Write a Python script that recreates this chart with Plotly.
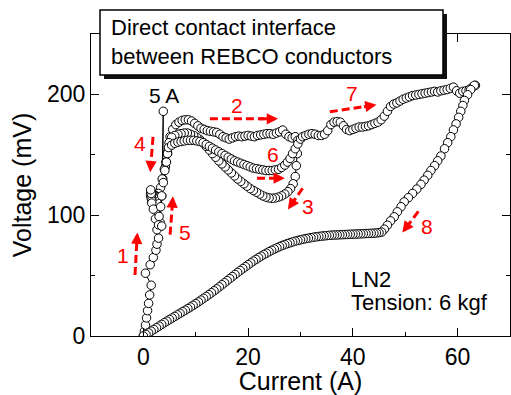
import plotly.graph_objects as go

# ---------------- data ----------------
# 1: ramp up to 5 A
seg1_x = [0, 0.2, 0.4, 0.6, 0.8, 1.0, 1.2, 1.5, 0.4, 1.3, 1.9, 2.4, 2.6, 2.9, 2.6, 3.2, 3.5, 3.8]
seg1_y = [0, 4, 9, 15, 21, 27, 34, 42, 52, 59, 65, 71, 76, 81, 88, 94, 116, 186]

# 2: 5 A -> ~29 A (upper branch)
seg2_x = [3.7, 4.2, 4.6, 5.1, 5.6, 6.2, 6.8, 7.4, 8.0, 8.6, 9.2, 9.8, 10.4, 11.0, 11.6, 12.2,
          12.8, 13.4, 14.0, 14.6, 15.2, 15.8, 16.4, 17.0, 17.6, 18.2, 18.8, 19.4, 20.0, 20.6,
          21.2, 21.8, 22.4, 23.0, 23.6, 24.2, 24.8, 25.4, 26.0, 26.6, 27.2, 27.8, 28.4, 29.0, 29.5]
seg2_y = [130, 140, 152, 165, 171, 175, 177, 178.5, 179, 179, 178, 176, 174, 172, 171, 170,
          169.5, 169, 168.5, 167, 165, 164, 163, 164, 165, 165.5, 165, 165.5, 166, 165.5,
          165, 166, 166.5, 167, 167.5, 167.5, 167, 168, 169, 170.5, 167, 165, 164, 165, 162]

# 3: ~29 A -> ~5 A (lower dip)
seg3_x = [29.4, 29.2, 29.0, 28.6, 28.1, 27.6, 27.0, 26.4, 25.8, 25.2, 24.6, 24.0, 23.4, 22.8,
          22.2, 21.6, 21.0, 20.4, 19.8, 19.2, 18.6, 18.0, 17.4, 16.8, 16.2, 15.6, 15.0, 14.4,
          13.8, 13.2, 12.6, 12.0, 11.4, 10.8, 10.2, 9.6, 9.0, 8.4, 7.8, 7.2, 6.6, 6.0, 5.4, 4.9]
seg3_y = [151, 141, 132, 126, 122, 119.5, 117.5, 116, 115, 114.3, 114, 114.3, 115, 116,
          117.5, 119, 120.5, 122, 124, 126, 128, 130, 132.5, 135, 137.5, 140, 142.5, 145,
          148, 151, 154, 157, 160, 162.5, 164.5, 166, 167, 168, 168, 167.5, 167, 166, 164.5, 160]

# 4: 5 A -> ~1.5 A
seg4_x = [4.6, 4.3, 4.0, 3.6, 3.3, 2.9, 2.4, 2.0, 1.7, 1.5, 1.4, 1.5, 1.5, 1.4, 1.5, 1.6, 1.5, 1.4]
seg4_y = [151, 144, 138, 130, 123, 118, 116, 117, 118, 117, 118, 119, 120, 116, 114, 112, 118, 121]

# 5: ~1.5 A -> 5 A
seg5_x = [1.6, 1.9, 2.3, 2.9, 3.5, 3.0, 3.3, 3.5, 3.8, 4.1, 4.4, 4.6, 4.8]
seg5_y = [110, 105, 97, 92, 91, 99, 107, 116, 127, 137, 144, 151, 156]

# 6: 5 A -> ~30 A (middle dip)
seg6_x = [5.4, 6.0, 6.6, 7.2, 7.8, 8.4, 9.0, 9.6, 10.2, 10.8, 11.4, 12.0, 12.6, 13.2, 13.8,
          14.4, 15.0, 15.6, 16.2, 16.8, 17.4, 18.0, 18.6, 19.2, 19.8, 20.4, 21.0, 21.6, 22.2,
          22.8, 23.4, 24.0, 24.6, 25.2, 25.8, 26.4, 27.0, 27.5, 28.0, 28.5, 29.0, 29.5, 30.0]
seg6_y = [158, 159.5, 160.5, 161, 161.5, 162, 162, 162, 161.5, 161, 160, 158.5, 157, 155.5, 154,
          152.5, 151, 149.5, 148, 146.5, 145, 144, 143, 142, 141, 140, 139, 138.5, 138,
          137.5, 137, 137, 137, 137.5, 138, 139.5, 141.5, 144, 147, 151, 155, 159, 163]

# 7: ~30 A -> 63 A
seg7_x = [30.4, 31.0, 31.6, 32.2, 32.8, 33.4, 34.0, 34.6, 35.2, 35.8, 36.4, 37.0, 37.6, 38.2,
          38.8, 39.4, 40.0, 40.6, 41.2, 41.8, 42.4, 43.0, 43.6, 44.2, 44.8, 45.4, 46.0, 46.6,
          47.2, 47.8, 48.4, 49.0, 49.6, 50.2, 50.8, 51.4, 52.0, 52.6, 53.2, 53.8, 54.4, 55.0,
          55.6, 56.2, 56.8, 57.4, 58.0, 58.6, 59.2, 59.8, 60.4, 61.0, 61.6, 62.2, 62.8, 63.4]
seg7_y = [165, 166, 167, 167.5, 167, 166, 166, 167, 170, 175, 177, 177.5, 177, 174,
          171, 170, 171, 172, 173, 173, 173.5, 174, 175, 176, 177, 179, 182, 186,
          190, 192, 193, 194.5, 196, 197, 198, 199, 199.5, 200, 200.5, 201, 201.5, 202,
          202.5, 202, 203, 203.5, 204, 205, 206, 203, 201, 202.5, 203, 204, 206, 207.5]

# 8: 63 A -> 0 A (return)
seg8_x = [63.2, 62.5, 61.9, 61.3, 61.0, 60.6, 60.2, 59.7, 59.2, 58.7, 58.1, 57.5, 56.8, 56.2,
          55.6, 54.9, 54.3, 53.6, 53.0, 52.2, 51.4, 50.6, 49.8, 49.2, 48.5, 47.9, 47.2, 46.6,
          46.0, 45.5, 45.0, 44.5, 44.0, 43.5, 43.0, 42.5, 42.0, 41.5, 41.0, 40.5, 40.0, 39.5,
          39.0, 38.5, 38.0, 37.5, 37.0, 36.5, 36.0, 35.5, 35.0, 34.5, 34.0, 33.5, 33.0, 32.5,
          32.0, 31.5, 31.0, 30.5, 30.0, 29.5, 29.0, 28.5, 28.0, 27.5, 27.0, 26.5, 26.0, 25.5,
          25.0, 24.5, 24.0, 23.5, 23.0, 22.5, 22.0, 21.5, 21.0, 20.5, 20.0, 19.5, 19.0, 18.5,
          18.0, 17.5, 17.0, 16.5, 16.0, 15.5, 15.0, 14.5, 14.0, 13.5, 13.0, 12.5, 12.0, 11.5,
          11.0, 10.5, 10.0, 9.5, 9.0, 8.5, 8.0, 7.5, 7.0, 6.5, 6.0, 5.5, 5.0, 4.5, 4.0, 3.5,
          3.0, 2.5, 2.0, 1.5, 1.0, 0.5, 0.0]
seg8_y = [207.5, 204, 199.7, 195, 190.8, 186, 181, 175.6, 170.6, 165, 160, 155, 149, 145,
          141, 137, 133, 129, 125.5, 121.6, 118, 114.5, 111, 107, 102.8, 98.6, 95.3, 91.7,
          88.4, 86.0, 85.6, 85.3, 85.1, 85.0, 84.9, 84.8, 84.7, 84.6, 84.5, 84.4, 84.3, 84.2,
          84.1, 84.0, 83.9, 83.8, 83.7, 83.6, 83.5, 83.3, 83.1, 82.9, 82.7, 82.4, 82.1, 81.8,
          81.4, 81.0, 80.6, 80.1, 79.6, 79.1, 78.5, 77.9, 77.2, 76.5, 75.7, 74.9, 74.0, 73.0,
          72.0, 70.9, 69.8, 68.6, 67.4, 66.1, 64.8, 63.4, 62.0, 60.5, 59.0, 57.4, 55.8, 54.2,
          52.6, 50.9, 49.2, 47.5, 45.8, 44.1, 42.4, 40.7, 39.0, 37.4, 35.8, 34.2, 32.7, 31.2,
          29.7, 28.2, 26.8, 25.4, 24.0, 22.7, 21.4, 20.1, 18.8, 17.5, 16.2, 14.9, 13.6, 12.3,
          11.0, 9.6, 8.2, 6.8, 5.4, 4.0, 2.6, 1.3, 0.0]

x_ticks = [0, 20, 40, 60]
y_ticks = [0, 100, 200]

# step labels: (label, label x, label y, arrow tail x, tail y, head x, head y)
step_labels = ["1", "2", "3", "4", "5", "6", "7", "8"]
label_x = [-3.9, 17.9, 31.4, -0.6, 7.9, 24.7, 39.8, 54.2]
label_y = [67, 190.5, 107, 159, 85.5, 150.5, 200.5, 90.5]
tail_x = [-1.6, 12.7, 30.4, 1.85, 5.1, 21.7, 35.6, 52.5]
tail_y = [50.5, 179.8, 122.3, 164.8, 83.9, 130.6, 185.6, 103.1]
head_x = [-1.15, 25.7, 27.6, 1.3, 5.65, 27.0, 44.5, 49.45]
head_y = [85.6, 179.8, 104.8, 135.6, 115.6, 130.6, 191.4, 85.6]

# ---------------- figure ----------------
all_x = seg1_x + seg2_x + seg3_x + seg4_x + seg5_x + seg6_x + seg7_x + seg8_x
all_y = seg1_y + seg2_y + seg3_y + seg4_y + seg5_y + seg6_y + seg7_y + seg8_y

FONT = "Arial, Liberation Sans, sans-serif"
RED = "#ff0000"

fig = go.Figure()
fig.add_trace(go.Scatter(
    x=all_x, y=all_y, mode="lines+markers",
    line=dict(color="black", width=1),
    marker=dict(symbol="circle", size=8.5, color="white",
                line=dict(color="black", width=1)),
    showlegend=False, hoverinfo="skip"))

shapes = []
annotations = []

# dashed red arrows
for i in range(len(step_labels)):
    tx, ty, hx, hy = tail_x[i], tail_y[i], head_x[i], head_y[i]
    ex = hx - 0.35 * (hx - tx) * 0  # placeholder to keep structure
    # stop the dashed line a little before the head tip
    sx = tx + 0.8 * (hx - tx)
    sy = ty + 0.8 * (hy - ty)
    shapes.append(dict(type="line", xref="x", yref="y", x0=tx, y0=ty, x1=sx, y1=sy,
                       line=dict(color=RED, width=3, dash="8px,4px"), layer="above"))
    annotations.append(dict(x=hx, y=hy, xref="x", yref="y",
                            ax=tx + 0.7 * (hx - tx), ay=ty + 0.7 * (hy - ty),
                            axref="x", ayref="y", text="", showarrow=True,
                            arrowhead=2, arrowsize=0.75, arrowwidth=3, arrowcolor=RED))
    annotations.append(dict(x=label_x[i], y=label_y[i], xref="x", yref="y",
                            text=step_labels[i], showarrow=False,
                            font=dict(family=FONT, size=21, color=RED)))

# "5 A" label
annotations.append(dict(x=3.9, y=199, xref="x", yref="y", text="5 A", showarrow=False,
                        font=dict(family=FONT, size=21, color="black")))
# LN2 / tension
annotations.append(dict(x=39.2, y=46.5, xref="x", yref="y", text="LN2", showarrow=False,
                        xanchor="left", font=dict(family=FONT, size=22, color="black")))
annotations.append(dict(x=39.2, y=27.5, xref="x", yref="y", text="Tension: 6 kgf",
                        showarrow=False, xanchor="left",
                        font=dict(family=FONT, size=22, color="black")))

# title box with shadow (paper coordinates)
W, H = 419.0, 302.0
def px_x(p):
    return (p - 91) / W
def px_y(p):
    return (336 - p) / H

shapes.append(dict(type="rect", xref="paper", yref="paper",
                   x0=px_x(104), x1=px_x(447), y0=px_y(79), y1=px_y(14),
                   fillcolor="#111111", line=dict(width=0), layer="above"))
shapes.append(dict(type="rect", xref="paper", yref="paper",
                   x0=px_x(100), x1=px_x(443), y0=px_y(75), y1=px_y(10),
                   fillcolor="white", line=dict(color="black", width=1.5), layer="above"))
annotations.append(dict(x=px_x(109), y=px_y(28), xref="paper", yref="paper",
                        text="Direct contact interface", showarrow=False,
                        xanchor="left", yanchor="middle",
                        font=dict(family=FONT, size=22, color="black")))
annotations.append(dict(x=px_x(109), y=px_y(57), xref="paper", yref="paper",
                        text="between REBCO conductors", showarrow=False,
                        xanchor="left", yanchor="middle",
                        font=dict(family=FONT, size=22, color="black")))

axis_common = dict(showline=True, linecolor="black", linewidth=1.2, mirror="ticks",
                   ticks="inside", ticklen=8, tickwidth=1.2, tickcolor="black",
                   showgrid=False, zeroline=False,
                   tickfont=dict(family=FONT, size=23, color="black"))

fig.update_layout(
    width=511, height=395,
    margin=dict(l=91, r=1, t=34, b=59),
    paper_bgcolor="white", plot_bgcolor="white",
    xaxis=dict(range=[-10, 70], tickvals=x_ticks, ticktext=[str(v) for v in x_ticks],
               minor=dict(dtick=10, tick0=0, ticks="inside", ticklen=4, tickcolor="black"),
               title=dict(text="Current (A)", font=dict(family=FONT, size=25, color="black"),
                          standoff=6),
               **axis_common),
    yaxis=dict(range=[0, 250], tickvals=y_ticks, ticktext=[str(v) for v in y_ticks],
               minor=dict(dtick=50, tick0=0, ticks="inside", ticklen=4, tickcolor="black"),
               title=dict(text="Voltage (mV)", font=dict(family=FONT, size=25, color="black"),
                          standoff=8),
               **axis_common),
    shapes=shapes, annotations=annotations,
)

fig.write_html("out.html")
